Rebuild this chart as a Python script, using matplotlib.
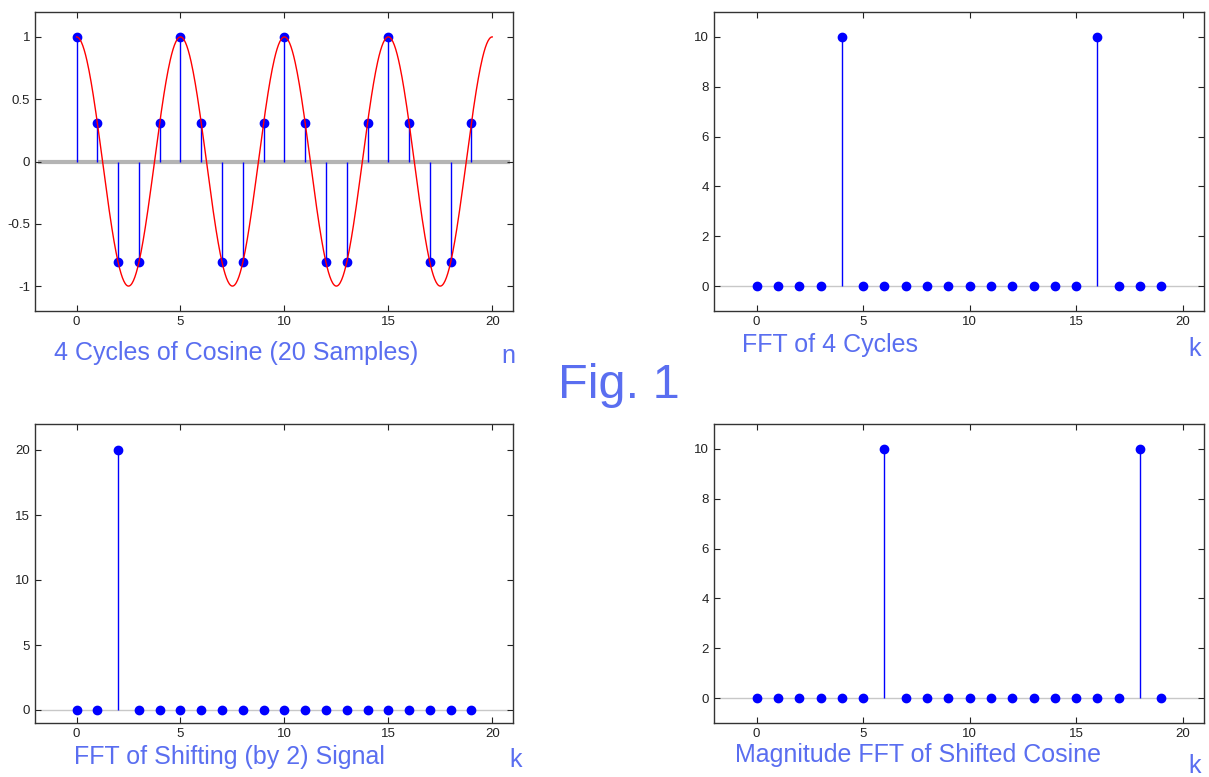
import numpy as np
import matplotlib.pyplot as plt

plt.rcParams['font.family'] = ['Liberation Sans', 'DejaVu Sans']

# sample index / frequency bin
n = list(range(20))
k = list(range(20))

# 4 cycles of cosine sampled 20 times
signal = [1, 0.309, -0.809, -0.809, 0.309,
          1, 0.309, -0.809, -0.809, 0.309,
          1, 0.309, -0.809, -0.809, 0.309,
          1, 0.309, -0.809, -0.809, 0.309]
cycles = 4
samples = 20

# |FFT| of the cosine
fft_mag = [0, 0, 0, 0, 10, 0, 0, 0, 0, 0, 0, 0, 0, 0, 0, 0, 10, 0, 0, 0]
# FFT of the shift-by-2 signal
shift_fft = [0, 0, 20, 0, 0, 0, 0, 0, 0, 0, 0, 0, 0, 0, 0, 0, 0, 0, 0, 0]
# |FFT| of the shifted cosine
shifted_mag = [0, 0, 0, 0, 0, 0, 10, 0, 0, 0, 0, 0, 0, 0, 0, 0, 0, 0, 10, 0]

label_color = '#5a6ef0'
W, H = 1209, 777

fig = plt.figure(figsize=(W / 100, H / 100), dpi=100)


def make_axes(x0, y0, x1, y1):
    ax = fig.add_axes([x0 / W, 1 - y1 / H, (x1 - x0) / W, (y1 - y0) / H])
    for s in ax.spines.values():
        s.set_color('#333333')
        s.set_linewidth(1.0)
    ax.tick_params(direction='in', length=4, top=True, right=True,
                   labelsize=9.5, colors='#222222', width=0.8)
    ax.set_xlim(-2, 21)
    ax.set_xticks([0, 5, 10, 15, 20])
    return ax


def stems(ax, x, y, base_lw=1.0, base_color='#c8c8c8'):
    ax.axhline(0, xmin=0.01, xmax=0.99, color=base_color, lw=base_lw, zorder=1)
    ax.vlines(x, 0, y, color='#0000ff', lw=1.0, zorder=2)
    ax.plot(x, y, 'o', color='#0000ff', markersize=6, zorder=3)


# top left: sampled cosine
ax1 = make_axes(35, 12, 513, 311)
stems(ax1, n, signal, base_lw=3, base_color='#b4b4b4')
t = np.linspace(0, samples, 600)
ax1.plot(t, np.cos(2 * np.pi * cycles * t / samples), color='#ff0000', lw=1, zorder=4)
ax1.set_ylim(-1.2, 1.2)
ax1.set_yticks([-1, -0.5, 0, 0.5, 1])
ax1.set_yticklabels(['-1', '-0.5', '0', '0.5', '1'])

# top right: FFT of 4 cycles
ax2 = make_axes(714, 12, 1204, 311)
stems(ax2, k, fft_mag)
ax2.set_ylim(-1, 11)
ax2.set_yticks([0, 2, 4, 6, 8, 10])

# bottom left: FFT of shifting signal
ax3 = make_axes(35, 424, 513, 723)
stems(ax3, k, shift_fft)
ax3.set_ylim(-1, 22)
ax3.set_yticks([0, 5, 10, 15, 20])

# bottom right: magnitude FFT of shifted cosine
ax4 = make_axes(714, 424, 1204, 723)
stems(ax4, k, shifted_mag)
ax4.set_ylim(-1, 11)
ax4.set_yticks([0, 2, 4, 6, 8, 10])

# captions
def caption(x, y, s, size=18):
    fig.text(x / W, 1 - y / H, s, color=label_color, fontsize=size,
             ha='left', va='center')

caption(54, 353, '4 Cycles of Cosine (20 Samples)')
caption(501, 356, 'n')
caption(742, 345, 'FFT of 4 Cycles')
caption(1188, 349, 'k')
caption(74, 757, 'FFT of Shifting (by 2) Signal')
caption(509, 760, 'k')
caption(735, 755, 'Magnitude FFT of Shifted Cosine')
caption(1188, 766, 'k')
caption(558, 386, 'Fig. 1', size=35)

fig.savefig('out.png', dpi=100)
